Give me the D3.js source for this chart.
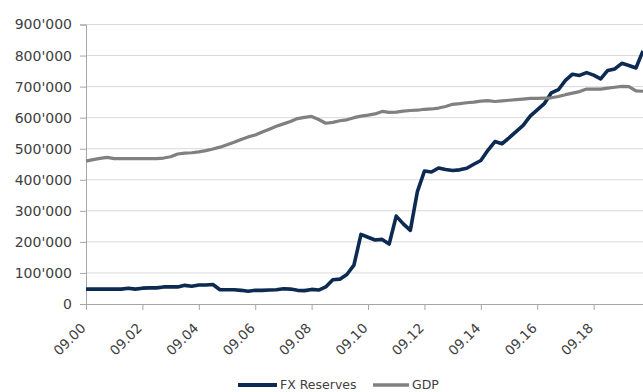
<!DOCTYPE html>
<html><head><meta charset="utf-8">
<script src="https://cdn.jsdelivr.net/npm/d3@7"></script>
<style>body{margin:0;background:#fff}svg{display:block}text{font-family:"DejaVu Sans",sans-serif;fill:#404040}</style>
</head><body><svg id="c" width="643" height="392"></svg>
<script>
const tickLabels=["09.00","09.02","09.04","09.06","09.08","09.10","09.12","09.14","09.16","09.18"];
const yTicks=[0,100000,200000,300000,400000,500000,600000,700000,800000,900000];
const fxReserves=[48,48,48,48,48,48,51,48,51,52,52,55,55,55,60,57,61,61,63,46,46,46,44,41,44,44,45,46,49,48,44,43,47,45,55,78,80,95,125,224,215,206,208,193,283,258,237,362,428,425,438,433,430,432,437,450,462,495,523,516,535,555,575,605,625,645,680,690,720,740,736,745,737,725,752,757,775,768,760,815].map(v=>v*1000);
const gdp=[460,465,469,472,468,468,468,468,468,468,468,470,474,483,486,487,490,494,499,505,513,521,530,538,544,554,563,572,580,588,597,601,604,594,582,585,590,593,600,605,608,612,620,617,618,621,623,624,627,628,631,636,643,645,648,650,653,655,652,654,656,658,660,662,662,663,664,668,674,679,684,692,692,692,695,698,701,700,686,685].map(v=>v*1000);
const series=[{name:"FX Reserves",values:fxReserves,color:"#0d2a52",w:3.6},{name:"GDP",values:gdp,color:"#808080",w:3.2}];

const svg=d3.select("#c");
const L=86,R=643,T=24.5,B=304;
const x=d3.scaleLinear().domain([0,79]).range([L,R]);
const y=d3.scaleLinear().domain([0,900000]).range([B,T]);
const fmt=v=>v===0?"0":d3.format(",")(v).replace(/,/g,"'");

// gridlines
svg.append("g").selectAll("line").data(yTicks.filter(d=>d>0)).join("line")
 .attr("x1",L).attr("x2",R).attr("y1",d=>y(d)).attr("y2",d=>y(d))
 .attr("stroke","#d9d9d9").attr("stroke-width",1);

// y axis
const ya=svg.append("g").attr("transform",`translate(${L},0)`)
 .call(d3.axisLeft(y).tickValues(yTicks).tickFormat(fmt).tickSize(6).tickPadding(8));
ya.select(".domain").attr("stroke","#a6a6a6");
ya.selectAll(".tick line").attr("stroke","#a6a6a6");
ya.selectAll("text").style("font-size","14px").attr("fill","#404040");

// x axis
const tickIdx=tickLabels.map((d,i)=>i*8);
const xa=svg.append("g").attr("transform",`translate(0,${B})`)
 .call(d3.axisBottom(x).tickValues(tickIdx).tickFormat((d,i)=>tickLabels[i]).tickSize(6).tickSizeOuter(0));
xa.select(".domain").attr("stroke","#a6a6a6");
xa.selectAll(".tick line").attr("stroke","#a6a6a6");
xa.selectAll("text").style("font-size","13.5px").attr("fill","#404040")
 .attr("text-anchor","end").attr("dy",null).attr("y",0)
 .attr("transform","translate(0,25) rotate(-45)");

// lines
const line=d3.line().x((d,i)=>x(i)).y(d=>y(d));
svg.append("g").selectAll("path").data(series).join("path")
 .attr("d",d=>line(d.values)).attr("fill","none")
 .attr("stroke",d=>d.color).attr("stroke-width",d=>d.w).attr("stroke-linejoin","round");

// legend
const lg=svg.append("g");
const items=[{s:series[0],lx:238,tx:280},{s:series[1],lx:373,tx:412}];
items.forEach(it=>{
 lg.append("line").attr("x1",it.lx).attr("x2",it.tx-3).attr("y1",385).attr("y2",385)
  .attr("stroke",it.s.color).attr("stroke-width",it.s.w+0.4);
 lg.append("text").attr("x",it.tx).attr("y",385).attr("dy","0.35em").style("font-size","12.5px").text(it.s.name);
});
</script></body></html>
